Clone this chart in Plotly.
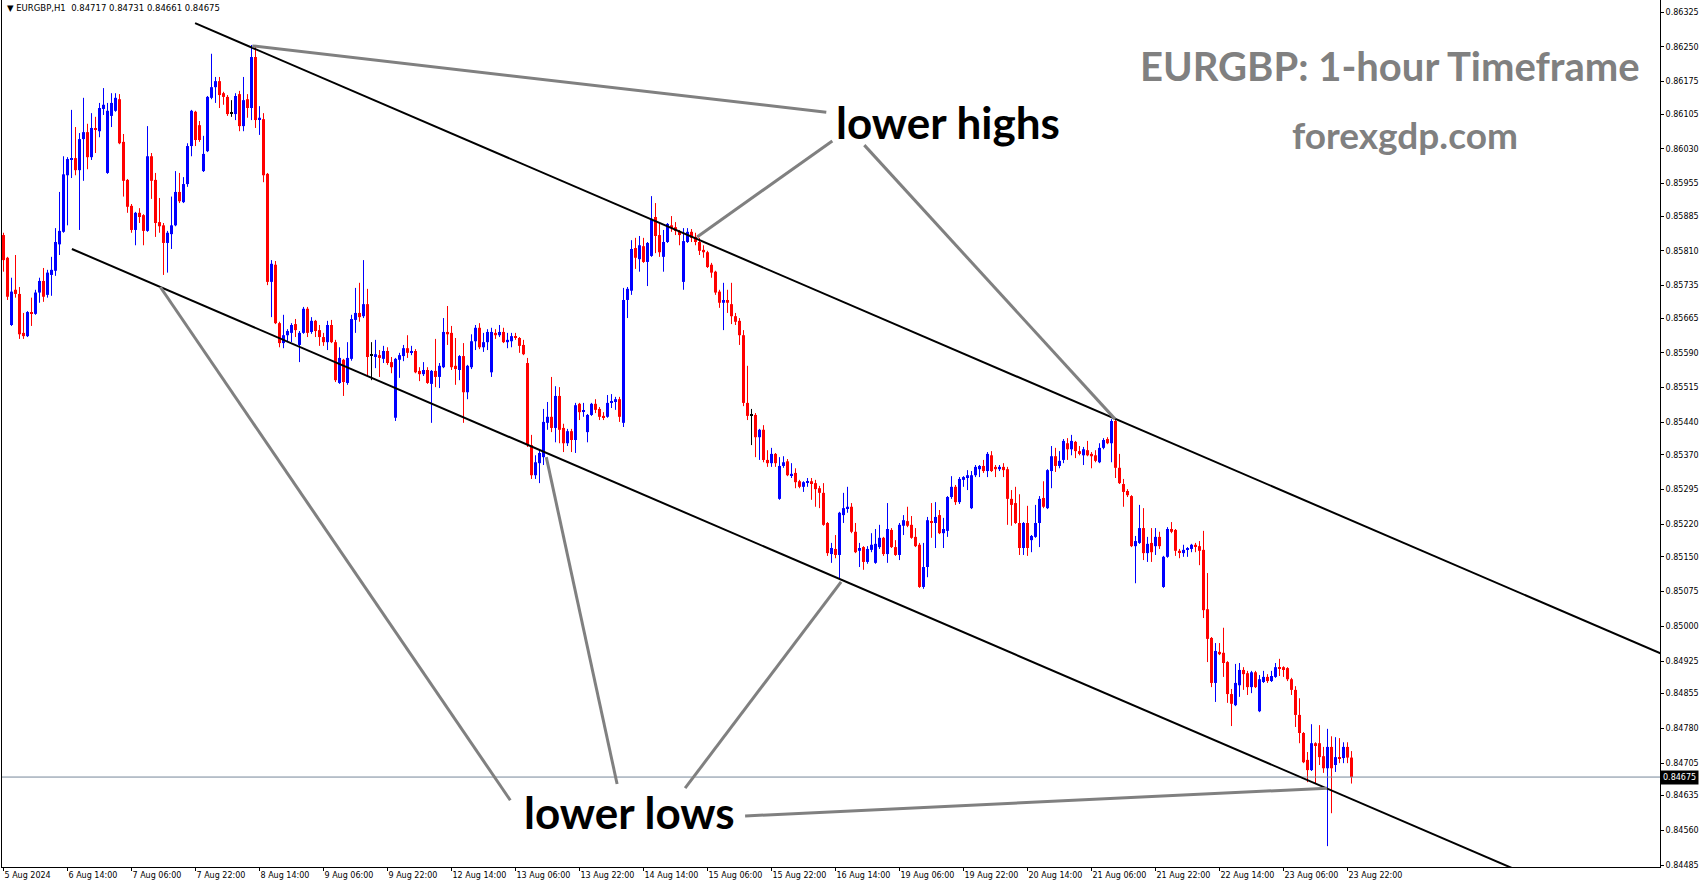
import plotly.graph_objects as go

# ---------------- data (EURGBP H1) ----------------
opens = [
.85844,.85795,.85650,.85726,.85717,.85633,.85626,.85678,.85674,.85720,
.85745,.85715,.85758,.85767,.85824,.85851,.85973,.86008,.86010,.85984,
.86051,.86066,.86012,.86073,.86068,.86116,.85978,.86101,.86112,.86137,
.86045,.85963,.85907,.85855,.85892,.85887,.85853,.86014,.85963,.85872,
.85865,.85827,.85846,.85865,.85937,.85915,.85954,.86036,.86110,.86081,
.85982,.86025,.86140,.86163,.86176,.86150,.86142,.86107,.86105,.86148,
.86079,.86137,.86118,.86228,.86094,.86094,.85976,.85743,.85780,.85654,
.85611,.85628,.85633,.85652,.85607,.85633,.85685,.85635,.85659,.85639,
.85624,.85613,.85650,.85613,.85525,.85575,.85525,.85577,.85661,.85676,
.85669,.85695,.85585,.85581,.85585,.85577,.85594,.85570,.85450,.85575,
.85583,.85600,.85590,.85594,.85551,.85544,.85553,.85523,.85551,.85538,
.85559,.85635,.85633,.85562,.85553,.85583,.85505,.85559,.85615,.85644,
.85602,.85613,.85548,.85633,.85628,.85635,.85613,.85615,.85626,.85622,
.85607,.85568,.85391,.85326,.85352,.85365,.85439,.85452,.85428,.85497,
.85428,.85395,.85421,.85402,.85480,.85464,.85419,.85456,.85480,.85469,
.85454,.85452,.85484,.85486,.85490,.85439,.85704,.85724,.85816,.85792,
.85820,.85786,.85799,.85883,.85844,.85797,.85829,.85865,.85861,.85851,
.85743,.85829,.85851,.85840,.85829,.85812,.85807,.85780,.85765,.85722,
.85698,.85704,.85695,.85669,.85659,.85628,.85482,.85456,.85456,.85408,
.85424,.85359,.85352,.85372,.85275,.85346,.85356,.85326,.85331,.85313,
.85301,.85311,.85313,.85309,.85298,.85288,.85223,.85156,.85167,.85154,
.85240,.85255,.85258,.85204,.85163,.85171,.85139,.85165,.85137,.85171,
.85191,.85156,.85208,.85171,.85154,.85217,.85227,.85219,.85193,.85176,
.85085,.85128,.85227,.85223,.85240,.85201,.85206,.85279,.85301,.85268,
.85316,.85322,.85255,.85326,.85339,.85346,.85335,.85369,.85344,.85339,
.85344,.85339,.85275,.85266,.85223,.85169,.85223,.85186,.85193,.85223,
.85277,.85255,.85335,.85367,.85346,.85359,.85395,.85382,.85398,.85378,
.85369,.85380,.85372,.85369,.85354,.85385,.85404,.85395,.85443,.85342,
.85307,.85292,.85281,.85173,.85180,.85212,.85158,.85180,.85173,.85193,
.85085,.85150,.85210,.85208,.85163,.85158,.85165,.85167,.85176,.85173,
.85165,.85037,.84975,.84878,.84945,.84943,.84923,.84854,.84830,.84873,
.84906,.84899,.84869,.84901,.84817,.84880,.84891,.84882,.84891,.84912,
.84912,.84910,.84886,.84863,.84809,.84770,.84712,.84690,.84748,.84748,
.84720,.84694,.84740,.84701,.84718,.84716,.84740,.84717]

highs = [
.85849,.85797,.85752,.85801,.85732,.85676,.85680,.85709,.85726,.85752,
.85773,.85769,.85797,.85859,.85937,.86014,.86012,.86114,.86077,.86064,
.86140,.86084,.86107,.86099,.86129,.86161,.86129,.86150,.86150,.86148,
.86062,.85965,.85911,.85894,.85902,.85889,.86079,.86021,.85978,.85924,
.85870,.85853,.85927,.85982,.85978,.85969,.86042,.86114,.86112,.86090,
.86058,.86144,.86235,.86185,.86185,.86153,.86146,.86135,.86150,.86155,
.86185,.86148,.86254,.86250,.86122,.86107,.85978,.85790,.85788,.85657,
.85672,.85641,.85654,.85663,.85637,.85689,.85689,.85667,.85661,.85650,
.85633,.85659,.85661,.85618,.85602,.85577,.85613,.85672,.85730,.85741,
.85790,.85728,.85613,.85618,.85596,.85605,.85602,.85581,.85579,.85590,
.85607,.85628,.85605,.85598,.85559,.85570,.85559,.85553,.85620,.85568,
.85665,.85691,.85648,.85622,.85585,.85611,.85564,.85630,.85650,.85654,
.85633,.85641,.85644,.85641,.85650,.85644,.85633,.85633,.85633,.85624,
.85618,.85579,.85413,.85369,.85380,.85469,.85484,.85538,.85518,.85516,
.85437,.85426,.85426,.85482,.85482,.85482,.85458,.85482,.85490,.85473,
.85462,.85499,.85501,.85495,.85495,.85730,.85732,.85833,.85838,.85842,
.85838,.85829,.85928,.85913,.85870,.85855,.85870,.85885,.85872,.85855,
.85859,.85859,.85857,.85849,.85838,.85822,.85810,.85784,.85767,.85726,
.85741,.85726,.85741,.85676,.85665,.85639,.85562,.85469,.85460,.85426,
.85434,.85380,.85385,.85374,.85365,.85367,.85361,.85352,.85341,.85316,
.85313,.85320,.85320,.85316,.85303,.85309,.85225,.85180,.85197,.85247,
.85288,.85301,.85266,.85223,.85180,.85173,.85173,.85201,.85210,.85219,
.85193,.85266,.85212,.85186,.85223,.85240,.85258,.85238,.85212,.85180,
.85180,.85236,.85266,.85268,.85251,.85234,.85281,.85324,.85305,.85322,
.85324,.85337,.85335,.85348,.85348,.85359,.85376,.85378,.85348,.85348,
.85352,.85344,.85294,.85301,.85285,.85225,.85260,.85197,.85262,.85281,
.85313,.85339,.85389,.85385,.85378,.85404,.85406,.85413,.85400,.85389,
.85387,.85400,.85376,.85380,.85395,.85406,.85408,.85447,.85449,.85372,
.85318,.85296,.85283,.85195,.85262,.85255,.85193,.85212,.85212,.85204,
.85152,.85214,.85225,.85210,.85167,.85176,.85171,.85178,.85180,.85184,
.85206,.85115,.84977,.84964,.84964,.84997,.84925,.84865,.84919,.84921,
.84912,.84904,.84904,.84904,.84895,.84904,.84897,.84904,.84921,.84930,
.84914,.84912,.84889,.84871,.84845,.84772,.84729,.84789,.84750,.84787,
.84740,.84779,.84763,.84761,.84759,.84750,.84750,.84731]

lows = [
.85765,.85704,.85648,.85709,.85620,.85620,.85624,.85648,.85672,.85698,
.85700,.85709,.85713,.85756,.85801,.85849,.85865,.85967,.85973,.85855,
.85961,.85986,.86006,.86021,.86055,.86103,.85976,.86077,.86110,.86040,
.85927,.85892,.85849,.85822,.85870,.85822,.85851,.85922,.85840,.85849,
.85758,.85763,.85814,.85863,.85913,.85913,.85948,.86014,.86036,.86045,
.85980,.86023,.86137,.86129,.86118,.86125,.86101,.86099,.86092,.86068,
.86068,.86097,.86092,.86075,.86060,.85958,.85736,.85667,.85652,.85602,
.85600,.85613,.85613,.85624,.85570,.85631,.85624,.85631,.85624,.85605,
.85605,.85596,.85611,.85527,.85523,.85497,.85521,.85573,.85633,.85657,
.85665,.85538,.85531,.85557,.85538,.85568,.85564,.85546,.85443,.85536,
.85572,.85579,.85585,.85546,.85529,.85540,.85523,.85439,.85516,.85514,
.85557,.85607,.85553,.85521,.85531,.85439,.85490,.85555,.85596,.85598,
.85592,.85596,.85538,.85620,.85624,.85611,.85600,.85602,.85618,.85590,
.85585,.85387,.85318,.85318,.85309,.85348,.85424,.85419,.85397,.85395,
.85376,.85389,.85376,.85374,.85445,.85452,.85397,.85454,.85460,.85445,
.85445,.85450,.85471,.85467,.85441,.85430,.85665,.85715,.85771,.85765,
.85784,.85734,.85797,.85805,.85797,.85765,.85827,.85851,.85844,.85822,
.85726,.85827,.85829,.85822,.85801,.85795,.85773,.85752,.85715,.85687,
.85639,.85676,.85652,.85650,.85607,.85475,.85445,.85391,.85365,.85359,
.85354,.85344,.85344,.85344,.85273,.85342,.85324,.85320,.85298,.85298,
.85290,.85301,.85273,.85258,.85255,.85217,.85152,.85137,.85147,.85104,
.85223,.85245,.85201,.85158,.85128,.85122,.85135,.85160,.85135,.85167,
.85152,.85137,.85169,.85152,.85143,.85197,.85214,.85189,.85171,.85083,
.85081,.85106,.85191,.85169,.85199,.85169,.85193,.85275,.85262,.85264,
.85301,.85294,.85253,.85322,.85322,.85331,.85322,.85333,.85322,.85335,
.85322,.85219,.85217,.85221,.85154,.85154,.85152,.85160,.85191,.85171,
.85255,.85253,.85298,.85333,.85341,.85352,.85359,.85369,.85363,.85369,
.85348,.85367,.85341,.85354,.85352,.85382,.85393,.85354,.85320,.85307,
.85258,.85279,.85171,.85093,.85178,.85143,.85139,.85139,.85154,.85167,
.85083,.85148,.85201,.85152,.85147,.85150,.85150,.85160,.85160,.85132,
.85018,.84923,.84869,.84837,.84938,.84891,.84835,.84785,.84828,.84848,
.84863,.84852,.84856,.84867,.84815,.84878,.84878,.84880,.84889,.84893,
.84891,.84882,.84852,.84783,.84748,.84705,.84664,.84688,.84662,.84701,
.84684,.84526,.84597,.84686,.84705,.84705,.84705,.84661]

closes = [
.85790,.85711,.85722,.85717,.85630,.85626,.85678,.85674,.85720,.85745,
.85711,.85763,.85769,.85829,.85853,.85975,.86008,.86010,.85984,.86051,
.86066,.86012,.86075,.86071,.86118,.86125,.86112,.86129,.86140,.86042,
.85961,.85905,.85855,.85892,.85883,.85853,.86014,.85961,.85870,.85863,
.85827,.85849,.85865,.85937,.85917,.85954,.86036,.86112,.86049,.86049,
.86019,.86142,.86163,.86176,.86146,.86142,.86105,.86107,.86144,.86079,
.86135,.86118,.86228,.86092,.86097,.85973,.85743,.85782,.85654,.85611,
.85628,.85637,.85650,.85639,.85633,.85685,.85633,.85659,.85637,.85624,
.85613,.85650,.85613,.85531,.85579,.85527,.85579,.85663,.85676,.85667,
.85695,.85581,.85585,.85587,.85579,.85594,.85568,.85559,.85577,.85585,
.85600,.85590,.85594,.85548,.85544,.85553,.85525,.85551,.85538,.85562,
.85635,.85630,.85559,.85555,.85583,.85505,.85562,.85615,.85644,.85602,
.85613,.85635,.85635,.85628,.85635,.85613,.85618,.85626,.85622,.85605,
.85587,.85391,.85326,.85354,.85374,.85441,.85452,.85428,.85497,.85424,
.85395,.85421,.85402,.85477,.85462,.85466,.85456,.85480,.85467,.85452,
.85450,.85482,.85486,.85490,.85452,.85704,.85728,.85814,.85795,.85822,
.85786,.85827,.85879,.85842,.85807,.85829,.85868,.85861,.85853,.85844,
.85831,.85851,.85838,.85829,.85810,.85807,.85775,.85763,.85720,.85698,
.85704,.85698,.85669,.85657,.85628,.85482,.85454,.85456,.85408,.85424,
.85359,.85352,.85372,.85352,.85346,.85354,.85326,.85329,.85311,.85301,
.85311,.85313,.85309,.85296,.85288,.85219,.85158,.85169,.85154,.85245,
.85255,.85258,.85204,.85160,.85169,.85139,.85167,.85176,.85178,.85191,
.85156,.85210,.85171,.85154,.85219,.85229,.85217,.85191,.85173,.85085,
.85128,.85229,.85223,.85236,.85201,.85210,.85279,.85301,.85268,.85318,
.85322,.85326,.85326,.85344,.85346,.85335,.85372,.85335,.85339,.85344,
.85337,.85275,.85262,.85223,.85169,.85223,.85169,.85195,.85223,.85275,
.85258,.85337,.85367,.85346,.85357,.85400,.85382,.85400,.85378,.85372,
.85382,.85369,.85367,.85357,.85385,.85402,.85395,.85443,.85342,.85309,
.85290,.85283,.85173,.85184,.85212,.85158,.85178,.85160,.85193,.85173,
.85150,.85210,.85204,.85163,.85160,.85165,.85169,.85176,.85173,.85163,
.85035,.84973,.84878,.84947,.84940,.84921,.84854,.84833,.84878,.84906,
.84897,.84869,.84901,.84869,.84886,.84891,.84882,.84893,.84912,.84910,
.84908,.84886,.84863,.84809,.84770,.84707,.84690,.84748,.84744,.84718,
.84694,.84740,.84694,.84718,.84716,.84740,.84717,.84675]

time_labels = ["5 Aug 2024", "6 Aug 14:00", "7 Aug 06:00", "7 Aug 22:00", "8 Aug 14:00",
               "9 Aug 06:00", "9 Aug 22:00", "12 Aug 14:00", "13 Aug 06:00", "13 Aug 22:00",
               "14 Aug 14:00", "15 Aug 06:00", "15 Aug 22:00", "16 Aug 14:00", "19 Aug 06:00",
               "19 Aug 22:00", "20 Aug 14:00", "21 Aug 06:00", "21 Aug 22:00", "22 Aug 14:00",
               "23 Aug 06:00", "23 Aug 22:00"]
bars_per_label = 16

price_labels = ["0.86325", "0.86250", "0.86175", "0.86105", "0.86030", "0.85955", "0.85885",
                "0.85810", "0.85735", "0.85665", "0.85590", "0.85515", "0.85440", "0.85370",
                "0.85295", "0.85220", "0.85150", "0.85075", "0.85000", "0.84925", "0.84855",
                "0.84780", "0.84705", "0.84635", "0.84560", "0.84485"]

symbol_header = "▼ EURGBP,H1  0.84717 0.84731 0.84661 0.84675"
last_price = 0.84675

# channel trend lines: two anchors (bar index, price), extended to the right
upper_channel = [(47.9, 0.86301), (414.2, 0.84942)]
lower_channel = [(17.1, 0.85814), (375.7, 0.84484)]

# grey pointer lines (bar index, price) pairs
pointer_lines = [
    [(62.2, 0.86252), (205.7, 0.86109)],
    [(173.4, 0.85840), (207.2, 0.86047)],
    [(215.2, 0.86038), (277.9, 0.85447)],
    [(39.2, 0.85732), (126.7, 0.84625)],
    [(135.7, 0.85365), (153.4, 0.84660)],
    [(209.4, 0.85096), (170.4, 0.84651)],
    [(185.4, 0.84591), (330.9, 0.84651)],
]
label_highs = ("lower highs", 236.2, 0.86088)
label_lows = ("lower lows", 156.4, 0.84599)
title_text = "EURGBP: 1-hour Timeframe"
site_text = "forexgdp.com"

# ---------------- figure ----------------
BULL = "#0000ff"
BEAR = "#ff0000"
DOJI = "#000000"

n = len(opens)
idx = list(range(n))
min_body = 0.000022

body_base, body_h, body_col = [], [], []
wick = {BULL: ([], []), BEAR: ([], []), DOJI: ([], [])}
for i in idx:
    o, h, l, c = opens[i], highs[i], lows[i], closes[i]
    col = BULL if c > o else (BEAR if c < o else DOJI)
    lo, hi = min(o, c), max(o, c)
    if hi - lo < min_body:
        mid = (hi + lo) / 2
        lo, hi = mid - min_body / 2, mid + min_body / 2
    body_base.append(lo)
    body_h.append(hi - lo)
    body_col.append(col)
    wx, wy = wick[col]
    wx += [i, i, None]
    wy += [l, h, None]

fig = go.Figure()

for col, (wx, wy) in wick.items():
    if wx:
        fig.add_trace(go.Scatter(x=wx, y=wy, mode="lines", line=dict(color=col, width=1),
                                 hoverinfo="skip", showlegend=False))

fig.add_trace(go.Bar(x=idx, y=body_h, base=body_base, width=0.75,
                     marker=dict(color=body_col, line=dict(width=0)),
                     hoverinfo="skip", showlegend=False))

x_min, x_max = -0.375, 414.125
y_min, y_max = 0.84481, 0.86351


def extend(line, x_end):
    (x0, y0), (x1, y1) = line
    s = (y1 - y0) / (x1 - x0)
    return [x0, x_end], [y0, y0 + s * (x_end - x0)]


# price line
fig.add_trace(go.Scatter(x=[x_min, x_max], y=[last_price, last_price], mode="lines",
                         line=dict(color="#778899", width=1), hoverinfo="skip", showlegend=False))

for ch in (upper_channel, lower_channel):
    xs, ys = extend(ch, 430)
    fig.add_trace(go.Scatter(x=xs, y=ys, mode="lines", line=dict(color="black", width=2),
                             hoverinfo="skip", showlegend=False))

for pl in pointer_lines:
    fig.add_trace(go.Scatter(x=[pl[0][0], pl[1][0]], y=[pl[0][1], pl[1][1]], mode="lines",
                             line=dict(color="#808080", width=3), hoverinfo="skip", showlegend=False))

annotations = [
    dict(text=label_highs[0], x=label_highs[1], y=label_highs[2], xref="x", yref="y",
         xanchor="center", yanchor="middle", showarrow=False,
         font=dict(family="Lato", size=44, color="black", weight="bold")),
    dict(text=label_lows[0], x=label_lows[1], y=label_lows[2], xref="x", yref="y",
         xanchor="center", yanchor="middle", showarrow=False,
         font=dict(family="Lato", size=44, color="black", weight="bold")),
    dict(text=title_text, x=0.837, y=0.9235, xref="paper", yref="paper", showarrow=False,
         xanchor="center", yanchor="middle",
         font=dict(family="Lato", size=40, color="#808080", weight="bold")),
    dict(text=site_text, x=0.846, y=0.8445, xref="paper", yref="paper", showarrow=False,
         xanchor="center", yanchor="middle",
         font=dict(family="Lato", size=37, color="#808080", weight="bold")),
    dict(text=symbol_header, x=0.002, y=0.999, xref="paper", yref="paper", showarrow=False,
         xanchor="left", yanchor="top", font=dict(family="DejaVu Sans", size=8.5, color="black")),
    dict(text=f"{last_price:.5f}", x=1, y=last_price, xref="paper", yref="y", showarrow=False,
         xanchor="left", yanchor="middle", bgcolor="black", borderpad=2,
         font=dict(family="DejaVu Sans", size=8, color="white")),
]

fig.update_layout(
    width=1705, height=888,
    margin=dict(l=2, r=45, t=0, b=21),
    paper_bgcolor="white", plot_bgcolor="white",
    showlegend=False, hovermode=False,
    annotations=annotations,
    xaxis=dict(range=[x_min, x_max],
               tickvals=[k * bars_per_label for k in range(len(time_labels))],
               ticktext=time_labels, ticks="outside", ticklen=3, tickcolor="black",
               ticklabelposition="outside right",
               showline=True, linecolor="black", linewidth=1, mirror=True,
               showgrid=False, zeroline=False,
               tickfont=dict(family="DejaVu Sans", size=8, color="black")),
    yaxis=dict(range=[y_min, y_max], side="right",
               tickvals=[float(v) for v in price_labels], ticktext=price_labels,
               ticks="outside", ticklen=3, tickcolor="black",
               showline=True, linecolor="black", linewidth=1, mirror=True,
               showgrid=False, zeroline=False,
               tickfont=dict(family="DejaVu Sans", size=8, color="black")),
)

fig.write_html("out.html", config={"displayModeBar": False},
               post_script="document.body.style.margin='0';")
